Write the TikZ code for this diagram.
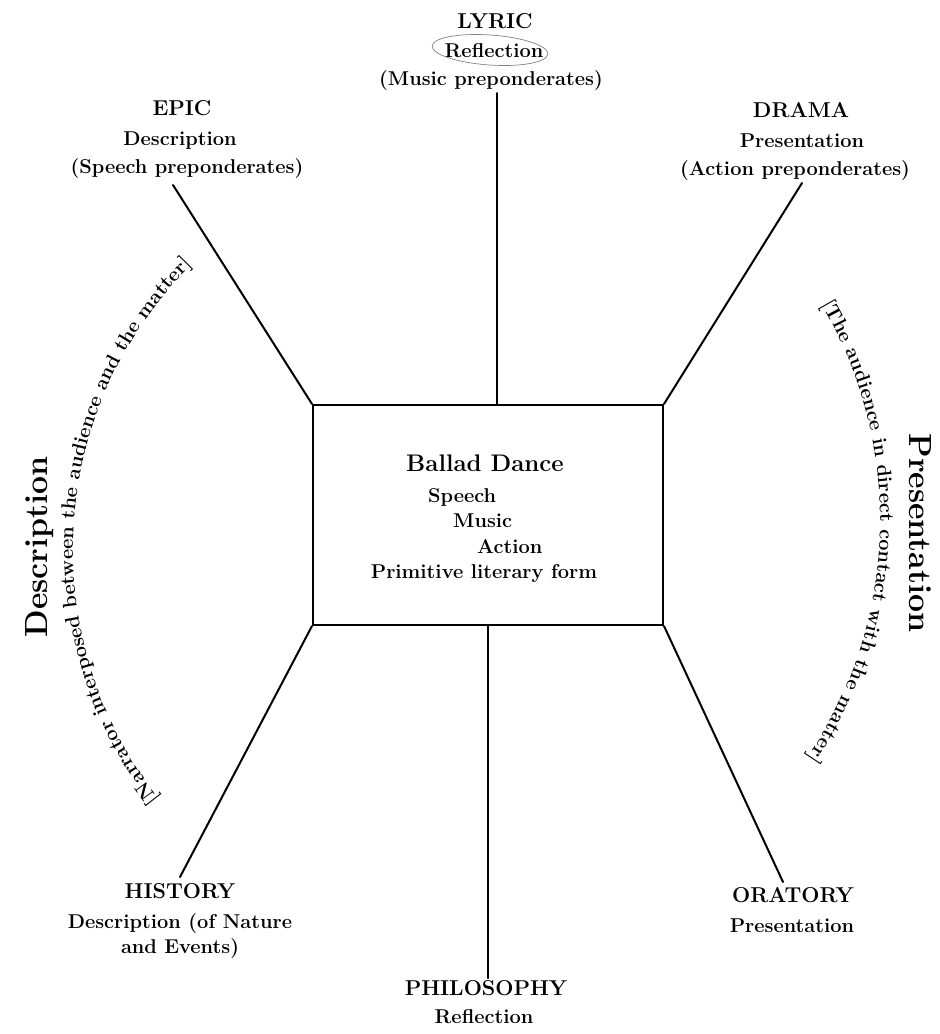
\documentclass[tikz,border=0pt]{standalone}
\usepackage{fontspec}
\usetikzlibrary{decorations.text}
\newcommand\TitleFont{\fontsize{21.5}{26}\selectfont\bfseries}
\newcommand\SubFont{\fontsize{20}{24}\selectfont\bfseries}
\newcommand\BalladFont{\fontsize{24}{28}\selectfont\bfseries}
\newcommand\BigFont{\fontsize{32}{38}\selectfont\bfseries}
\begin{document}
\begin{tikzpicture}[x=1pt,y=1pt,
  title/.style={anchor=base, inner sep=0pt, font=\TitleFont},
  sub/.style={anchor=base, inner sep=0pt, font=\SubFont},
  conn/.style={line width=2pt, line cap=round},
  big/.style={anchor=base, inner sep=0pt, font=\BigFont}
]
\useasboundingbox (0,0) rectangle (940,-1034);

% central box
\node[draw, line width=2pt, minimum width=350pt, minimum height=220pt, inner sep=0pt] (box) at (488,-515) {};
\node[anchor=base, inner sep=0pt, font=\BalladFont] (ballad) at (485,-471) {Ballad Dance};
\node[sub, anchor=base west] (speech) at (428,-502) {Speech};
\node[sub, anchor=base west] (music) at (453,-527) {Music};
\node[sub, anchor=base west] (action) at (477,-553) {Action};
\node[sub] (primitive) at (484,-578) {Primitive literary form};

% LYRIC
\node[title] (lyric) at (495,-28) {LYRIC};
\node[sub] (lyric2) at (494,-57) {Reflection};
\node[sub] (lyric3) at (491,-85) {(Music preponderates)};
\draw[gray, line width=0.7pt, rotate around={-4:(490,-50)}] (490,-50) ellipse[x radius=58pt, y radius=15pt];

% EPIC
\node[title] (epic) at (182,-115) {EPIC};
\node[sub] (epic2) at (180,-145) {Description};
\node[sub] (epic3) at (187,-173) {(Speech preponderates)};

% DRAMA
\node[title] (drama) at (801,-117) {DRAMA};
\node[sub] (drama2) at (802,-147) {Presentation};
\node[sub] (drama3) at (795,-175) {(Action preponderates)};

% HISTORY
\node[title] (history) at (180,-898) {HISTORY};
\node[sub] (history2) at (180,-928) {Description (of Nature};
\node[sub] (history3) at (180,-953) {and Events)};

% ORATORY
\node[title] (oratory) at (793,-902) {ORATORY};
\node[sub] (oratory2) at (792,-932) {Presentation};

% PHILOSOPHY
\node[title] (philosophy) at (486,-995) {PHILOSOPHY};
\node[sub] (philosophy2) at (484,-1023) {Reflection};

% connector ends
\coordinate (lyricEnd) at (497,-93);
\coordinate (epicEnd) at (173,-185);
\coordinate (dramaEnd) at (802,-183);
\coordinate (histEnd) at (180,-877);
\coordinate (oratEnd) at (783,-882);
\coordinate (philEnd) at (488,-978);

\draw[conn] (lyricEnd |- box.north) -- (lyricEnd);
\draw[conn] (box.north west) -- (epicEnd);
\draw[conn] (box.north east) -- (dramaEnd);
\draw[conn] (box.south west) -- (histEnd);
\draw[conn] (box.south east) -- (oratEnd);
\draw[conn] (philEnd |- box.south) -- (philEnd);

% side headings
\node[big, rotate=90] (descr) at (47,-547) {Description};
\node[big, rotate=-90] (pres) at (909,-533) {Presentation};

% arc texts
\path[decorate, decoration={text along path, text align=center,
  text={|\SubFont|[Narrator interposed between the audience and the matter]}}]
  (475,-550) ++(236.5:402pt) arc[start angle=236.5, end angle=116.5, radius=402pt];
\path[decorate, decoration={text along path, text align=center,
  text={|\SubFont|[The audience in direct contact with the matter]}}]
  (452,-520) ++(58.25:428pt) arc[start angle=58.25, end angle=-61.75, radius=428pt];
\end{tikzpicture}
\end{document}
